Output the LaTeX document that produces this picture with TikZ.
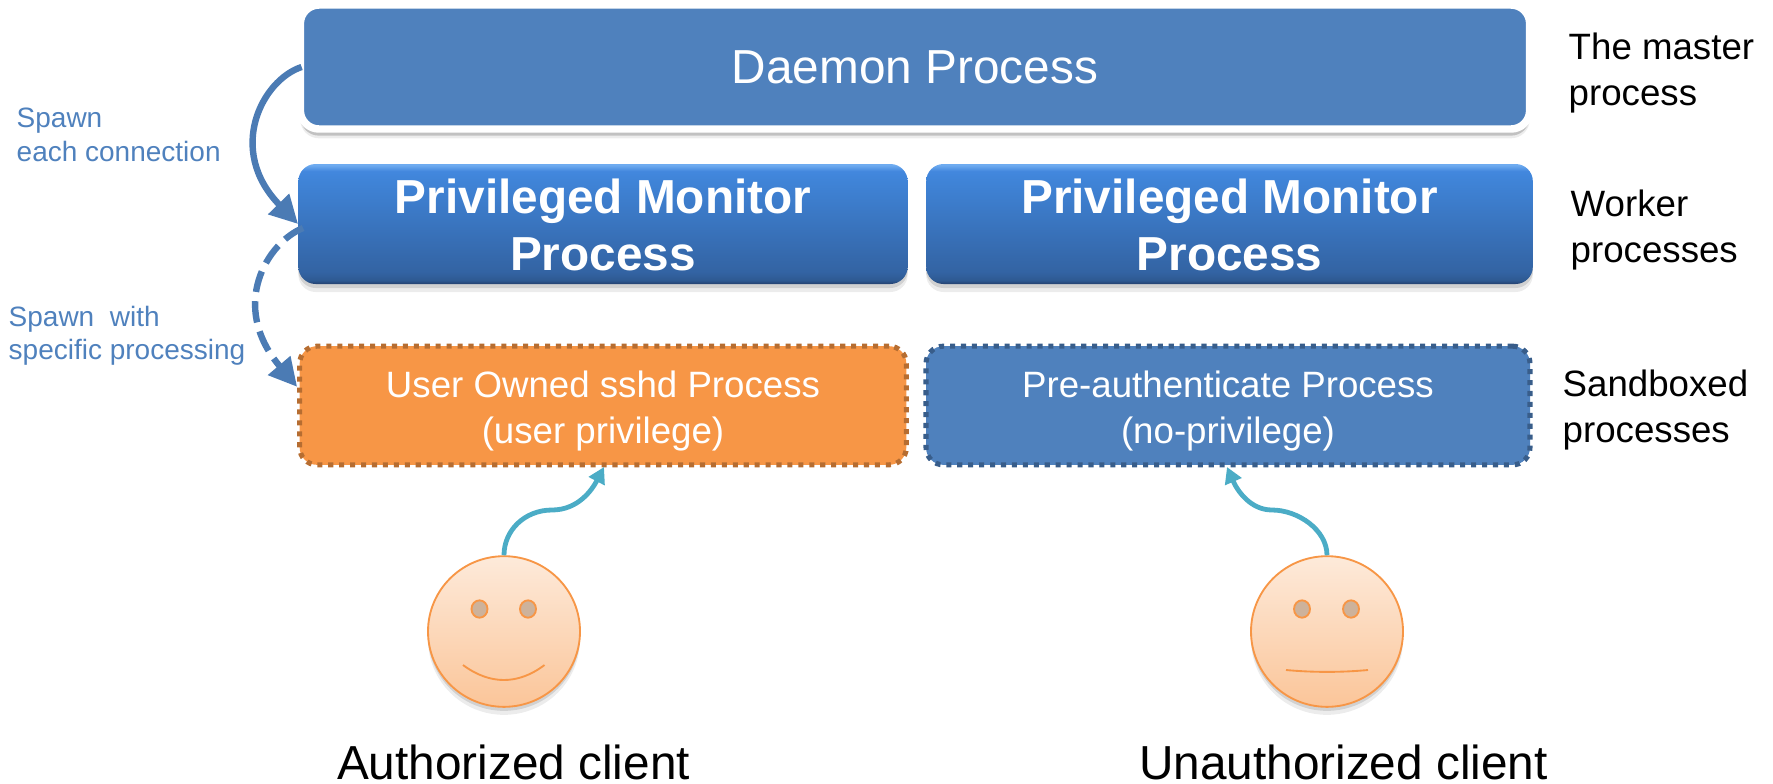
\documentclass[tikz,border=0pt]{standalone}
\usepackage{fontspec}
\setmainfont{Liberation Sans}
\usetikzlibrary{arrows.meta,shapes.geometric,shadows}
\definecolor{procblue}{HTML}{4F81BD}
\definecolor{userorange}{HTML}{F79646}
\definecolor{orangeedge}{HTML}{B66D31}
\definecolor{blueedge}{HTML}{385D8A}
\definecolor{teal}{HTML}{4BACC6}
\definecolor{eyefill}{HTML}{CDB29B}
\pgfdeclareverticalshading{monitorshade}{100bp}{
  rgb(0bp)=(0.14,0.25,0.43);
  rgb(25bp)=(0.14,0.25,0.43);
  rgb(26.5bp)=(0.18,0.35,0.57);
  rgb(30bp)=(0.20,0.39,0.64);
  rgb(69bp)=(0.25,0.52,0.85);
  rgb(72bp)=(0.26,0.53,0.87);
  rgb(74.5bp)=(0.43,0.67,0.94);
  rgb(100bp)=(0.43,0.67,0.94)}

\begin{document}
\begin{tikzpicture}[x=0.75pt,y=-0.75pt,
  softshadow/.style={drop shadow={opacity=0.15,shadow xshift=0pt,shadow yshift=-6pt},
    drop shadow={opacity=0.25,shadow xshift=0pt,shadow yshift=-3pt}},
  masteredge/.style={drop shadow={opacity=0.15,shadow xshift=0pt,shadow yshift=-7pt},
    drop shadow={opacity=0.4,shadow xshift=0pt,shadow yshift=-5pt}},
  bigtext/.style={font=\fontsize{35.8}{42.8}\selectfont,align=center},
  midtext/.style={font=\fontsize{27.5}{34.5}\selectfont,align=center},
  sidetext/.style={font=\fontsize{27.5}{34.5}\selectfont,align=left,anchor=west},
  spawntext/.style={font=\fontsize{21}{25}\selectfont,align=left,anchor=west,text=procblue},
  monitorbox/.style={rounded corners=13pt,shading=monitorshade,minimum height=90pt,softshadow},
  sandbox/.style={rounded corners=13pt,line width=3.8pt,dash pattern=on 3.8pt off 4.4pt,minimum height=89pt},
  face/.style={ellipse,draw=userorange,line width=1.4pt,top color=userorange!20,bottom color=userorange!55,
    minimum width=114pt,minimum height=113pt,softshadow},
  eye/.style={ellipse,draw=userorange,line width=1.4pt,fill=eyefill,minimum width=12pt,minimum height=13pt,inner sep=0pt},
  spawnline/.style={draw=procblue!95!black,line width=4.8pt,-{Triangle[length=21pt,width=21pt]}},
  clientline/.style={draw=teal,line width=3.6pt,-{Triangle[length=12pt,width=13pt]}}]
\useasboundingbox (0,0) rectangle (1773,783);
% Master
\node[bigtext,text=white,fill=procblue,draw=white,line width=5.6pt,rounded corners=14pt,
  minimum width=922pt,minimum height=93pt,masteredge] (daemon) at (915,67) {Daemon Process};
% Workers
\node[monitorbox,minimum width=457pt] (monitorA) at (603,224) {};
\node[monitorbox,minimum width=455pt] (monitorB) at (1229.5,224) {};
\node[bigtext,text=white] (monitorAtext) at (603,225) {\textbf{Privileged Monitor}\\\textbf{Process}};
\node[bigtext,text=white] (monitorBtext) at (1229.5,225) {\textbf{Privileged Monitor}\\\textbf{Process}};
% Sandboxes
\node[sandbox,draw=orangeedge,fill=userorange,minimum width=455pt] (userproc) at (603,405.5) {};
\node[sandbox,draw=blueedge,fill=procblue,minimum width=453pt] (preauth) at (1228,405.5) {};
\node[midtext,text=white] (usertext) at (603,411) {User Owned sshd Process\\(user privilege)};
\node[midtext,text=white] (preauthtext) at (1228,411) {Pre-authenticate Process\\(no-privilege)};
% Side labels
\node[sidetext] (masterlabel) at (1564,73) {The master\\process};
\node[sidetext] (workerlabel) at (1566,230) {Worker\\processes};
\node[sidetext] (sandboxlabel) at (1558,410) {Sandboxed\\processes};
\node[spawntext] (spawnA) at (12,135) {Spawn\\each connection};
\node[spawntext] (spawnB) at (4,336) {Spawn\ \ with\\specific processing};
% Faces
\node[face] (happy) at (504,631.5) {};
\node[eye] (happyL) at (479.5,609) {};
\node[eye] (happyR) at (528,609) {};
\draw[userorange,line width=1.4pt] (463,665) .. controls (490,685) and (518,685) .. (544.5,665);
\node[face] (plain) at (1327,631.5) {};
\node[eye] (plainL) at (1302,609) {};
\node[eye] (plainR) at (1351,609) {};
\draw[userorange,line width=1.4pt] (1286,670) .. controls (1313,672.5) and (1341,672.5) .. (1368,670);
% Client names
\node[font=\fontsize{35.8}{42.8}\selectfont,inner sep=0pt] (authname) at (513.5,762) {Authorized client};
\node[font=\fontsize{35.8}{42.8}\selectfont,inner sep=0pt] (unauthname) at (1343.5,762) {Unauthorized client};
% Spawn arrows
\draw[spawnline] (daemon.west) ++(5,0) coordinate (spawnAstart) .. controls (262,80) and (226,150) .. (monitorA.west);
\draw[spawnline,dash pattern=on 16pt off 7pt] (monitorA.west) ++(5,4) coordinate (spawnBstart) .. controls (268,242) and (228,305) .. ([yshift=14pt]userproc.west);
% Client arrows
\coordinate (happymid) at (552,510);
\coordinate (plainmid) at (1272,510);
\coordinate (happytip) at (604,467);
\coordinate (plaintip) at (1227,467);
\draw[clientline] (happy.north) .. controls (504,530) and (525,510) .. (happymid) .. controls (578,510) and (592,490) .. (happytip);
\draw[clientline] (plain.north) .. controls (1327,530) and (1298,510) .. (plainmid) .. controls (1250,510) and (1237,490) .. (plaintip);
\end{tikzpicture}
\end{document}
